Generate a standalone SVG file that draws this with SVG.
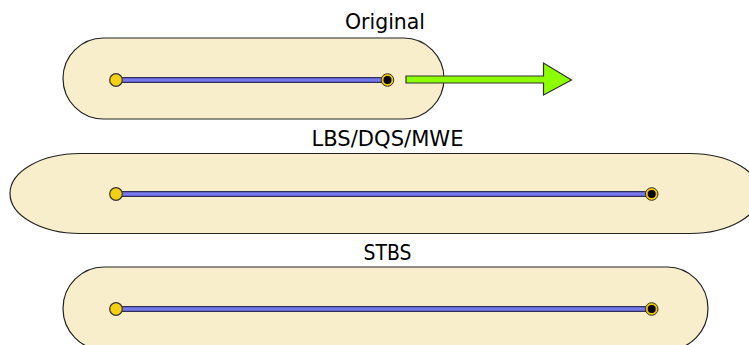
<svg xmlns="http://www.w3.org/2000/svg" width="749" height="345" viewBox="0 0 749 345">
<style>
.shape{fill:#F9EECC;stroke:#222;stroke-width:1.2}
.shadow{fill:none;stroke:#999;stroke-width:1.5}
.lineOut{stroke:#2E2E5A;stroke-width:6;stroke-linecap:butt}
.lineIn{stroke:#7878EE;stroke-width:3.5;stroke-linecap:butt}
.start{fill:#F5CF12;stroke:#333;stroke-width:1.2}
.endO{fill:#F0C800;stroke:#333;stroke-width:1}
.endI{fill:#000}
.label{font-family:"DejaVu Sans","Liberation Sans",sans-serif;font-size:21px;fill:#000;text-anchor:middle}
.arrow{fill:#8CFF00;stroke:#333;stroke-width:1.2}
</style>
<rect width="749" height="345" fill="#fff"/>
<g id="original">
  <rect class="shape" x="63" y="38" width="381" height="81" rx="40.5" ry="40.5"/>
  <text class="label" x="385" y="29" textLength="80" lengthAdjust="spacingAndGlyphs">Original</text>
  <line class="lineOut" x1="116" y1="80" x2="388" y2="80"/>
  <line class="lineIn" x1="116" y1="80" x2="388" y2="80"/>
  <circle class="start" cx="116" cy="80" r="6.3"/>
  <circle class="endO" cx="387.5" cy="80" r="6.3"/>
  <circle class="endI" cx="387.5" cy="80" r="4"/>
</g>
<g id="lbs">
  <path class="shape" d="M80,153.5 H690 A70,40 0 0 1 690,233.5 H80 A70,40 0 0 1 80,153.5 Z"/>
  <text class="label" x="387.5" y="145.5" textLength="152" lengthAdjust="spacingAndGlyphs">LBS/DQS/MWE</text>
  <line class="lineOut" x1="116" y1="194" x2="652" y2="194"/>
  <line class="lineIn" x1="116" y1="194" x2="652" y2="194"/>
  <circle class="start" cx="116" cy="194" r="6.3"/>
  <circle class="endO" cx="651.7" cy="194" r="6.3"/>
  <circle class="endI" cx="651.7" cy="194" r="4"/>
</g>
<g id="stbs">
  <rect class="shape" x="63" y="267" width="645" height="83" rx="41" ry="41.5"/>
  <text class="label" x="387.5" y="260" textLength="48" lengthAdjust="spacingAndGlyphs">STBS</text>
  <line class="lineOut" x1="116" y1="309" x2="652" y2="309"/>
  <line class="lineIn" x1="116" y1="309" x2="652" y2="309"/>
  <circle class="start" cx="116" cy="309" r="6.3"/>
  <circle class="endO" cx="651.7" cy="309" r="6.3"/>
  <circle class="endI" cx="651.7" cy="309" r="4"/>
</g>
<g id="connectors">
  <path class="arrow" d="M406,76 H543.5 V63 L571.5,80 L543.5,95 V83 H406 Z"/>
</g>
</svg>
